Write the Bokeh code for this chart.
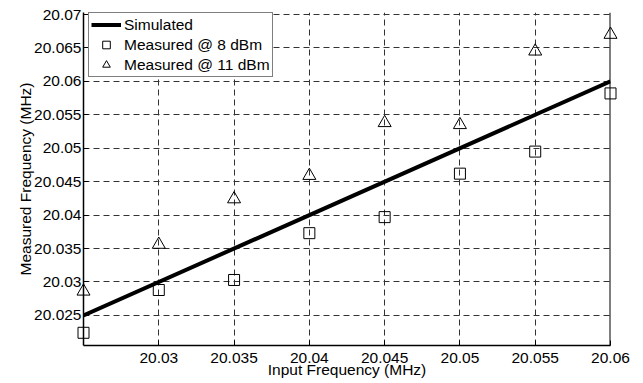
from bokeh.plotting import figure
from bokeh.models import Range1d, FixedTicker, Span
from bokeh.embed import file_html
from bokeh.resources import INLINE

# ---- data ----
input_freq = [20.025, 20.03, 20.035, 20.04, 20.045, 20.05, 20.055, 20.06]
sim_x = [20.025, 20.06]
sim_y = [20.025, 20.06]
meas_8dbm = [20.0224, 20.0288, 20.0303, 20.0373, 20.0397, 20.0462, 20.0495, 20.0582]
meas_11dbm = [20.0286, 20.0356, 20.0424, 20.0459, 20.0538, 20.0535, 20.0645, 20.0670]

x_ticks = [20.03, 20.035, 20.04, 20.045, 20.05, 20.055, 20.06]
x_tick_labels = ["20.03", "20.035", "20.04", "20.045", "20.05", "20.055", "20.06"]
y_ticks = [20.025, 20.03, 20.035, 20.04, 20.045, 20.05, 20.055, 20.06, 20.065, 20.07]
y_tick_labels = ["20.025", "20.03", "20.035", "20.04", "20.045", "20.05", "20.055",
                 "20.06", "20.065", "20.07"]

FONT = "Liberation Sans"
FS = "15.5px"

p = figure(width=643, height=383, output_backend="svg", toolbar_location=None,
           x_range=Range1d(20.025, 20.06), y_range=Range1d(20.0205, 20.0703),
           min_border_left=83, min_border_right=33, min_border_top=12, min_border_bottom=38)
p.outline_line_color = None
p.background_fill_color = "white"
p.border_fill_color = "white"

r_sim = p.line(sim_x, sim_y, line_color="black", line_width=4, legend_label="Simulated")
r8 = p.scatter(input_freq, meas_8dbm, marker="square", size=11, line_color="black",
               fill_color=None, line_width=1, legend_label="Measured @ 8 dBm")
r11 = p.scatter(input_freq, meas_11dbm, marker="triangle", size=13, line_color="black",
                fill_color=None, line_width=1, legend_label="Measured @ 11 dBm")
for r in (r8, r11):
    r.level = "overlay"

xa = p.xaxis[0]
xa.ticker = FixedTicker(ticks=x_ticks)
xa.major_label_overrides = dict(zip(x_ticks, x_tick_labels))
xa.axis_label = "Input Frequency (MHz)"
xa.major_label_standoff = 7
xa.axis_label_standoff = -5

ya = p.yaxis[0]
ya.ticker = FixedTicker(ticks=y_ticks)
ya.major_label_overrides = dict(zip(y_ticks, y_tick_labels))
ya.axis_label = "Measured Frequency (MHz)"
ya.major_label_standoff = 2
ya.axis_label_standoff = -3

for ax in (xa, ya):
    ax.axis_line_color = "black"
    ax.axis_line_width = 1.5
    ax.major_tick_in = 5
    ax.major_tick_out = 0
    ax.major_tick_line_color = "black"
    ax.minor_tick_line_color = None
    ax.major_label_text_font = FONT
    ax.major_label_text_font_size = FS
    ax.major_label_text_color = "black"
    ax.axis_label_text_font = FONT
    ax.axis_label_text_font_size = FS
    ax.axis_label_text_font_style = "normal"
    ax.axis_label_text_color = "black"

right_edge = Span(location=x_ticks[-1], dimension="height", line_color="black", line_width=2)
p.add_layout(right_edge)

for g in (p.xgrid[0], p.ygrid[0]):
    g.grid_line_color = "#333333"
    g.grid_line_dash = "6 4"
    g.grid_line_width = 1

lg = p.legend[0]
lg.location = (5, 268)
lg.border_line_color = "black"
lg.border_line_width = 1
lg.background_fill_color = "white"
lg.background_fill_alpha = 1
lg.label_text_font = FONT
lg.label_text_font_size = FS
lg.label_text_color = "black"
lg.padding = 2
lg.spacing = 1
lg.glyph_width = 30
lg.glyph_height = 19
lg.label_height = 19
lg.label_standoff = 3
lg.margin = 0

open("out.html", "w").write(file_html(p, INLINE))
